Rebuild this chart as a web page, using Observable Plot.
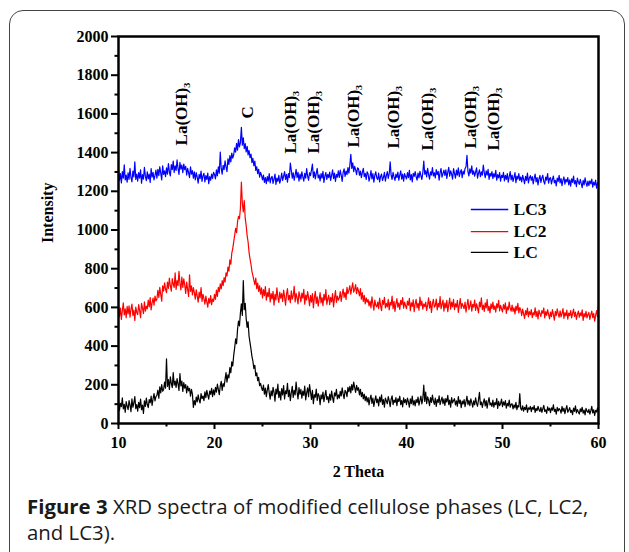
<!DOCTYPE html>
<html>
<head>
<meta charset="utf-8">
<script src="https://cdn.jsdelivr.net/npm/d3@7"></script>
<script src="https://cdn.jsdelivr.net/npm/@observablehq/plot@0.6"></script>
<style>
  html, body { margin: 0; padding: 0; background: #fff; }
  #wrap { position: relative; width: 629px; height: 552px; overflow: hidden; background: #fff; }
  #border { position: absolute; left: 9px; top: 10px; width: 616px; height: 600px; box-sizing: border-box;
            border: 1.5px solid #444; border-radius: 14px; }
  #chart { position: absolute; left: 0; top: 0; }
  .cap { position: absolute; left: 27px; white-space: nowrap; font-family: "Open Sans", sans-serif;
         font-size: 20.4px; line-height: 26px; color: #1a1a1a; }
  .cap .fig { font-weight: 700; }
</style>
</head>
<body>
<div id="wrap">
  <div id="border"></div>
  <div id="chart"></div>
  <div class="cap" style="top:493px"><span class="fig">Figure 3</span><span> XRD spectra of modified cellulose phases (LC, LC2,</span></div>
  <div class="cap" style="top:519px"><span>and LC3).</span></div>
</div>
<script>
// 2θ grid: readings every 0.1° from 10° to 60° (one row = one degree)
const thetaStart = 10;
const thetaStep = 0.1;

// LC (black)
const lc = [
121,68,104,87,132,75,99,58,113,90,
72,118,95,61,127,84,106,139,77,98,
64,109,82,126,71,95,52,117,88,131,
98,82,124,107,141,93,128,154,117,139,
146,172,131,189,158,201,167,176,214,183,
334,192,227,176,241,208,185,263,198,219,
187,232,205,171,258,194,219,166,212,183,
201,158,193,169,182,141,176,152,83,118,
96,137,112,148,121,106,155,129,142,118,
163,134,171,147,126,168,151,182,139,174,
148,187,162,203,176,149,195,218,171,206,
192,228,263,214,251,236,289,262,318,297,
352,391,437,412,486,529,504,572,618,559,
739,588,621,542,497,526,451,418,384,347,
322,284,301,247,262,221,238,196,207,184,
171,198,152,183,139,174,201,158,126,169,
143,187,161,115,178,152,203,134,166,122,
181,148,196,127,169,154,208,139,172,118,
159,192,135,171,148,214,163,127,185,152,
176,131,167,145,193,122,158,184,139,201,
163,124,171,102,149,136,178,119,154,142,
97,148,127,162,113,144,171,125,139,108,
152,121,167,134,109,158,143,176,127,148,
131,166,142,184,153,128,171,162,139,187,
164,192,158,201,173,214,186,161,197,172,
185,148,176,139,161,127,152,118,141,112,
134,96,128,147,104,131,88,119,143,108,
126,91,137,112,148,99,124,84,131,117,
102,139,118,87,126,143,98,121,109,134,
92,128,114,141,97,119,86,132,108,124,
98,131,112,84,127,103,142,96,118,91,
124,108,136,95,119,142,101,129,198,114,
162,103,138,121,92,134,109,147,116,99,
131,88,124,109,143,97,118,136,102,127,
93,129,111,146,98,121,84,134,107,119,
128,96,117,89,139,104,121,82,116,101,
124,87,113,141,98,119,92,127,108,85,
117,96,133,104,89,122,161,97,111,83,
109,127,91,118,79,112,134,96,106,88,
121,84,108,97,129,78,114,92,103,126,
87,112,95,118,79,104,91,121,84,99,
102,76,96,81,109,72,93,85,154,78,
69,91,64,83,72,96,58,81,74,88,
61,84,73,92,57,78,66,89,71,62,
83,58,76,94,63,71,52,86,68,79,
56,81,69,97,62,74,48,83,65,77,
71,54,88,63,79,51,74,92,58,69,
82,57,68,46,79,63,91,55,72,60,
49,76,61,84,53,69,44,78,64,57,
73,48,66,89,55,71,42,68,59,81,
58
];

// LC2 (red)
const lc2 = [
611,552,597,538,584,623,561,593,547,605,
566,608,549,591,617,558,586,532,601,574,
562,614,583,547,621,596,568,629,581,607,
593,638,602,651,587,624,648,611,659,633,
642,688,651,703,669,632,711,684,727,695,
676,731,698,752,712,684,749,721,703,778,
693,738,712,786,724,691,757,703,748,716,
672,731,694,657,768,683,711,664,702,676,
643,691,658,627,679,649,702,631,668,645,
617,658,629,601,647,622,661,614,643,631,
668,641,689,657,704,681,722,695,738,712,
754,731,779,762,808,787,846,823,881,904,
939,972,1008,986,1043,1071,1058,1112,1247,1138,
1094,1152,1061,1023,971,938,884,851,823,786,
764,741,718,752,697,726,683,712,668,701,
649,692,661,708,637,676,655,698,628,671,
644,683,612,667,639,701,653,626,679,648,
671,631,689,654,612,668,697,639,662,624,
686,643,661,709,628,672,649,618,681,657,
629,674,648,693,617,664,638,682,651,609,
662,627,671,598,649,683,621,654,607,641,
676,623,651,609,668,637,692,616,644,663,
614,652,629,671,603,648,687,626,659,637,
648,682,631,669,694,652,678,641,704,671,
689,712,668,701,727,679,693,718,671,702,
684,659,697,642,676,631,662,618,649,627,
641,608,632,597,654,619,586,638,611,603,
627,594,648,609,583,637,616,652,598,621,
603,641,587,626,612,658,593,631,579,619,
646,601,624,589,637,614,651,596,628,608,
594,632,611,647,583,624,605,639,578,617,
642,598,621,586,653,609,632,591,618,604,
627,584,613,649,596,631,574,618,642,601,
609,643,587,621,602,656,593,615,638,581,
623,597,636,578,614,648,591,627,603,641,
588,619,602,637,574,613,646,595,621,607,
593,628,576,611,642,589,607,634,581,616,
601,638,584,619,596,572,627,603,649,588,
612,579,624,597,641,583,606,571,618,594,
627,589,608,576,619,598,636,582,611,593,
576,614,591,623,569,603,587,628,594,581,
612,579,598,566,607,584,621,572,599,587,
558,591,567,543,584,562,596,551,578,563,
589,547,573,561,598,552,579,541,586,568,
553,584,569,597,546,578,559,588,564,541,
576,552,589,563,534,579,557,592,568,549,
582,551,568,594,543,573,556,586,539,571,
557,583,546,569,591,553,576,538,564,581,
549,572,556,587,533,568,551,579,546,562,
574,538,563,581,547,569,529,558,584,552,
612
];

// LC3 (blue)
const lc3 = [
1314,1256,1291,1243,1302,1268,1337,1259,1284,1247,
1296,1262,1318,1271,1249,1305,1274,1352,1261,1289,
1253,1297,1268,1311,1242,1286,1263,1324,1277,1255,
1301,1264,1289,1246,1317,1273,1298,1259,1282,1309,
1268,1313,1281,1327,1294,1259,1332,1287,1306,1276,
1321,1289,1343,1301,1279,1338,1312,1356,1297,1331,
1308,1362,1319,1287,1349,1314,1336,1296,1341,1312,
1329,1284,1318,1296,1271,1326,1289,1307,1268,1301,
1259,1296,1273,1242,1288,1265,1304,1251,1279,1293,
1248,1281,1262,1294,1239,1276,1257,1289,1266,1298,
1287,1264,1311,1279,1326,1294,1403,1318,1289,1334,
1312,1357,1326,1301,1368,1339,1384,1352,1397,1371,
1389,1424,1402,1448,1413,1467,1429,1452,1531,1438,
1476,1421,1447,1403,1432,1388,1411,1374,1392,1348,
1371,1332,1356,1308,1327,1291,1314,1273,1298,1282,
1259,1284,1246,1271,1239,1276,1252,1291,1243,1268,
1277,1241,1263,1289,1236,1268,1251,1283,1242,1262,
1294,1256,1279,1302,1261,1288,1247,1291,1271,1346,
1309,1268,1296,1257,1283,1314,1271,1298,1253,1289,
1263,1301,1274,1252,1293,1268,1317,1279,1257,1296,
1281,1309,1341,1272,1301,1264,1293,1318,1269,1285,
1254,1291,1268,1303,1246,1279,1297,1261,1288,1271,
1299,1256,1283,1311,1266,1294,1251,1287,1273,1306,
1272,1309,1283,1251,1298,1316,1277,1304,1286,1323,
1294,1336,1391,1318,1347,1302,1329,1311,1286,1321,
1317,1283,1304,1271,1298,1319,1276,1293,1262,1301,
1289,1253,1276,1307,1264,1291,1247,1282,1301,1269,
1261,1294,1248,1277,1289,1256,1272,1298,1253,1281,
1302,1267,1291,1352,1283,1261,1298,1274,1256,1289,
1271,1299,1258,1284,1306,1263,1289,1252,1291,1276,
1264,1297,1271,1308,1259,1286,1249,1293,1277,1302,
1276,1258,1294,1269,1303,1281,1261,1296,1356,1288,
1307,1274,1319,1288,1263,1301,1284,1322,1279,1296,
1269,1312,1286,1303,1258,1297,1318,1273,1291,1309,
1282,1311,1267,1299,1324,1278,1306,1289,1263,1317,
1293,1268,1309,1284,1321,1276,1298,1312,1271,1304,
1289,1318,1327,1386,1302,1279,1316,1294,1331,1287,
1306,1278,1299,1321,1268,1294,1311,1276,1301,1283,
1336,1297,1271,1306,1283,1314,1262,1293,1278,1302,
1266,1291,1274,1308,1257,1286,1269,1297,1252,1283,
1271,1298,1254,1283,1262,1291,1247,1276,1302,1259,
1284,1251,1272,1297,1245,1279,1263,1291,1256,1274,
1248,1283,1262,1239,1277,1256,1294,1243,1269,1281,
1257,1276,1238,1268,1289,1249,1271,1233,1264,1282,
1246,1269,1283,1251,1237,1274,1258,1292,1242,1266,
1271,1238,1262,1279,1244,1257,1228,1268,1251,1283,
1243,1266,1229,1258,1274,1237,1262,1249,1271,1233,
1259,1227,1264,1246,1279,1238,1255,1224,1268,1247,
1236,1262,1241,1219,1257,1233,1269,1244,1226,1253,
1229,1254,1238,1263,1221,1247,1232,1258,1216,1244,
1232
];

// Peak assignments
const peakTheta = [16.6, 23.4, 27.9, 30.3, 34.5, 38.7, 42.2, 46.7, 49.1];
const peakNames = ["La(OH)₃", "C", "La(OH)₃", "La(OH)₃", "La(OH)₃", "La(OH)₃", "La(OH)₃", "La(OH)₃", "La(OH)₃"];

// Legend / axes
const seriesNames = ["LC3", "LC2", "LC"];
const xTicks = [10, 20, 30, 40, 50, 60];
const yTicks = [0, 200, 400, 600, 800, 1000, 1200, 1400, 1600, 1800, 2000];

// ---- build tables ----
const toRows = (vals) => vals.map((v, i) => ({theta: +(thetaStart + i * thetaStep).toFixed(1), intensity: v}));
const rowsLC = toRows(lc), rowsLC2 = toRows(lc2), rowsLC3 = toRows(lc3);

const seriesColors = ["#0000ff", "#ff0000", "#000000"];
const labelBase = [1437, 1576, 1395, 1395, 1426, 1421, 1411, 1421, 1411];
const peakRows = peakTheta.map((t, i) => ({theta: t, base: labelBase[i], name: peakNames[i]}));
const legendY = [1106, 992, 884];
const legendRows = seriesNames.map((s, i) => ({name: s, y: legendY[i]}));

const xMinor = d3.range(15, 60, 10);
const yMinor = d3.range(100, 2000, 200);

const serif = "'Liberation Serif', 'Times New Roman', serif";

const chart = Plot.plot({
  width: 629,
  height: 488,
  marginLeft: 118,
  marginRight: 31,
  marginTop: 36,
  marginBottom: 65,
  style: {fontFamily: serif, fontWeight: "bold", fontSize: "16px", background: "transparent", maxWidth: "none", color: "#000"},
  x: {domain: [10, 60]},
  y: {domain: [0, 2000]},
  color: {domain: seriesNames, range: seriesColors},
  marks: [
    Plot.lineY(rowsLC, {x: "theta", y: "intensity", stroke: seriesColors[2], strokeWidth: 1.2}),
    Plot.lineY(rowsLC2, {x: "theta", y: "intensity", stroke: seriesColors[1], strokeWidth: 1.2}),
    Plot.lineY(rowsLC3, {x: "theta", y: "intensity", stroke: seriesColors[0], strokeWidth: 1.2}),
    Plot.text(peakRows, {x: "theta", y: "base", text: "name", rotate: -90, textAnchor: "start",
      fontSize: 17, fontWeight: "bold", fill: "#000"}),
    Plot.link(legendRows, {x1: () => 46.7, x2: () => 50.6, y1: "y", y2: "y", stroke: "name", strokeWidth: 1.3}),
    Plot.text(legendRows, {x: () => 51.15, y: "y", text: "name", textAnchor: "start", fontSize: 17.5, fontWeight: "bold", fill: "#000"}),
    Plot.axisX({ticks: xTicks, tickSize: 6, tickPadding: 7, tickFormat: d => String(d), label: null, strokeWidth: 2, fontSize: 16}),
    Plot.axisX({ticks: xMinor, tickSize: 3.5, tickFormat: () => "", label: null, strokeWidth: 2}),
    Plot.axisY({ticks: yTicks, tickSize: 7, tickPadding: 3, tickFormat: d => String(d), label: null, strokeWidth: 2, fontSize: 16}),
    Plot.axisY({ticks: yMinor, tickSize: 3.5, tickFormat: () => "", label: null, strokeWidth: 2}),
    Plot.frame({stroke: "#000", strokeWidth: 2.5}),
    Plot.text(["2 Theta"], {frameAnchor: "bottom", dy: 48, lineAnchor: "middle", fontSize: 16, fontWeight: "bold", fill: "#000"}),
    Plot.text(["Intensity"], {frameAnchor: "left", dx: -71, dy: 13, rotate: -90, lineAnchor: "middle", fontSize: 16, fontWeight: "bold", fill: "#000"})
  ]
});
document.getElementById("chart").appendChild(chart);
</script>
</body>
</html>
